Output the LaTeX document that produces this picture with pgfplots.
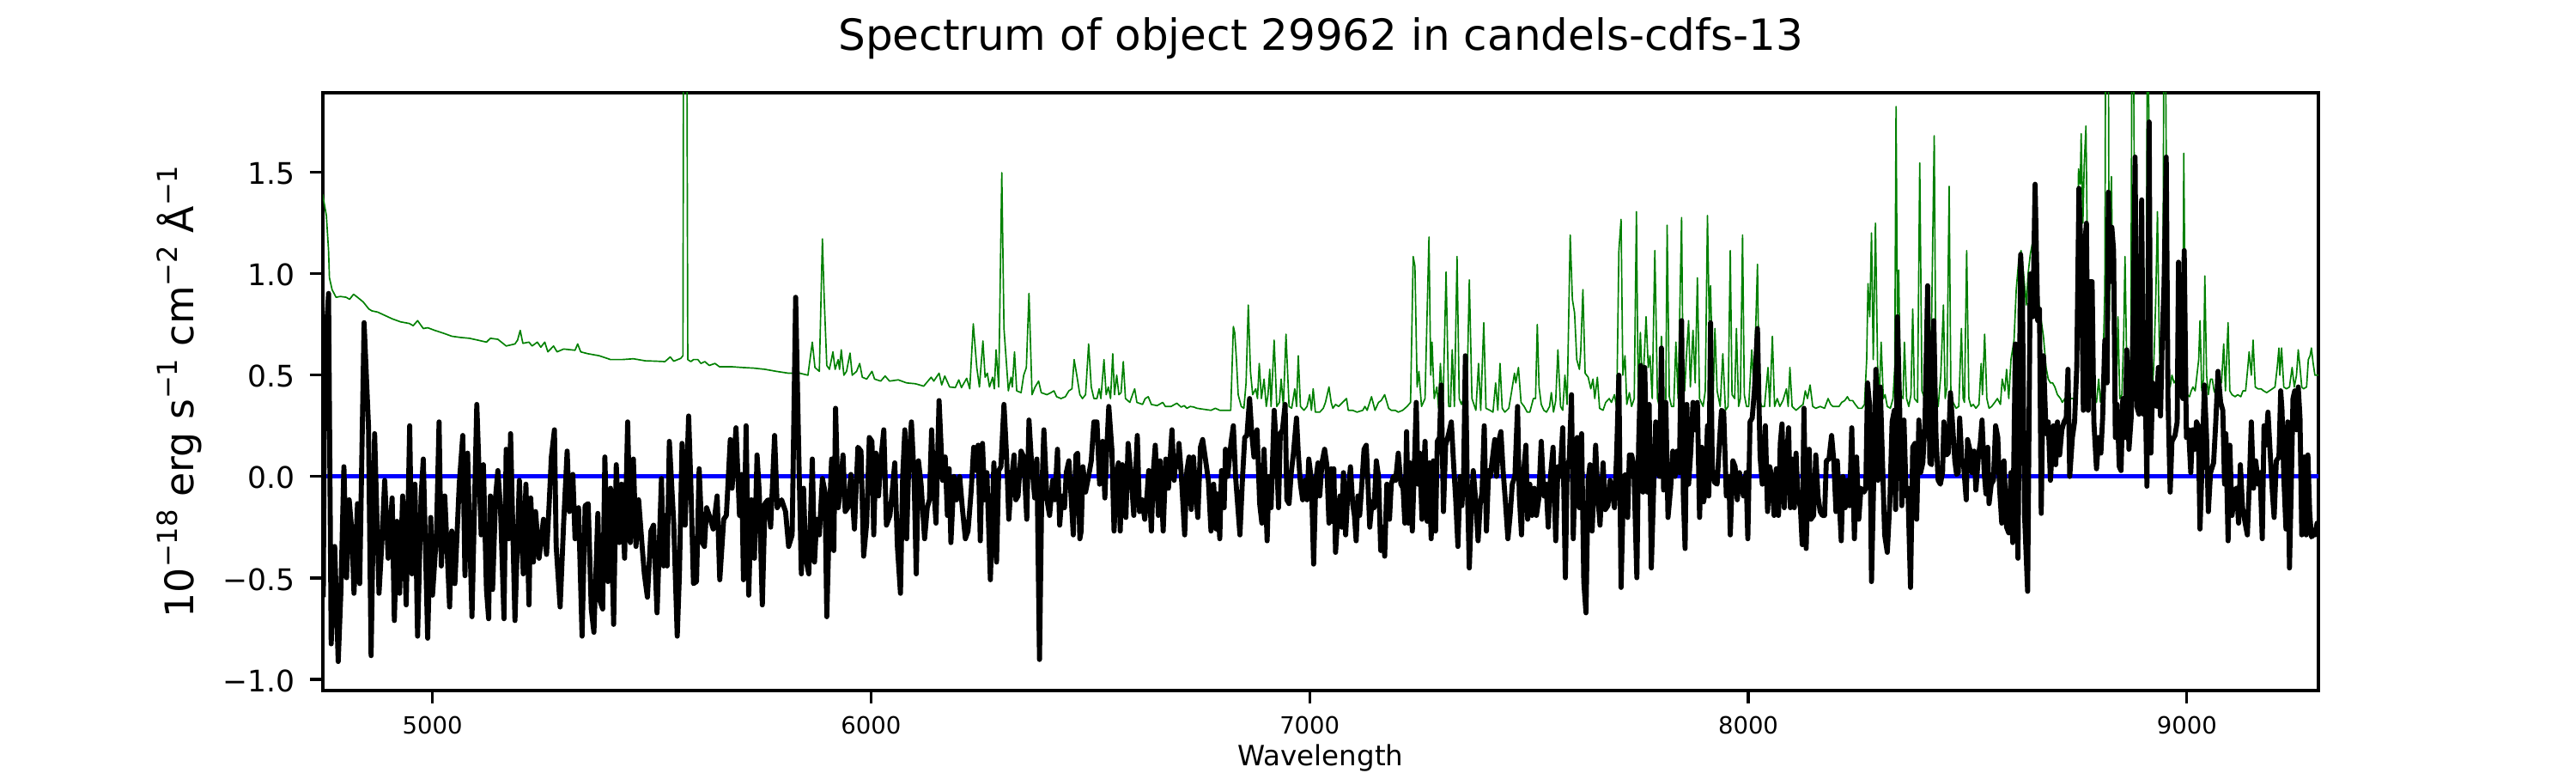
\documentclass[border=0pt]{standalone}
\usepackage{fontspec}
\setmainfont{DejaVu Sans}
\usepackage{pgfplots}
\pgfplotsset{compat=1.18}
\definecolor{mplgreen}{HTML}{008000}
\newcommand{\sps}[1]{\raisebox{0.42em}{\fontsize{7.7}{8}\selectfont #1}}
\begin{document}
\begin{tikzpicture}
\path[use as bounding box] (-90.24pt,-23.04pt) rectangle (629.76pt,192.96pt);
\begin{axis}[
  at={(0,0)}, anchor=south west,
  scale only axis, width=557.76pt, height=167.04pt,
  xmin=4750, xmax=9300, ymin=-1.055, ymax=1.891,
  axis line style={line width=0.8pt},
  tick align=outside, major tick length=3.5pt,
  every tick/.style={line width=0.8pt, black},
  xtick pos=bottom, ytick pos=left,
  xtick={5000,6000,7000,8000,9000},
  xticklabels={5000,6000,7000,8000,9000},
  ytick={-1,-0.5,0,0.5,1,1.5},
  yticklabels={−1.0,−0.5,0.0,0.5,1.0,1.5},
  xticklabel style={font=\fontsize{6.6}{7}\selectfont, anchor=base, inner sep=0pt, yshift=-8.7pt},
  yticklabel style={font=\fontsize{8.3}{9}\selectfont, anchor=base east, inner sep=0pt, xshift=-4.2pt, yshift=-3.4pt},
  title={Spectrum of object 29962 in candels-cdfs-13},
  title style={at={(axis description cs:0.5,1)}, anchor=base, yshift=5.86pt, font=\fontsize{12}{14}\selectfont},
  xlabel={Wavelength},
  xlabel style={at={(axis description cs:0.5,0)}, anchor=base, yshift=-21.1pt, font=\fontsize{7.8}{9}\selectfont},
  ylabel={10\sps{−18} erg s\sps{−1} cm\sps{−2} Å\sps{−1}},
  ylabel style={at={(axis description cs:-0.06454,0.5)}, anchor=base, font=\fontsize{11}{13}\selectfont},
]
% noise / sky spectrum (green)
\addplot[mplgreen, line width=0.4pt, line join=round, mark=none] coordinates {
(4750,1.39)(4751,1.372)(4758,1.286)(4763,1.113)(4765,0.979)(4771,0.921)(4780,0.883)(4790,0.887)(4803,0.883)(4811,0.873)(4820,0.898)(4829,0.883)(4842,0.860)(4855,0.825)(4862,0.816)(4875,0.810)(4888,0.797)(4908,0.777)(4927,0.762)(4947,0.754)(4956,0.743)(4966,0.768)(4979,0.729)(4989,0.733)(5005,0.720)(5025,0.706)(5044,0.691)(5064,0.685)(5084,0.681)(5103,0.672)(5123,0.662)(5132,0.681)(5149,0.676)(5168,0.643)(5188,0.653)(5194,0.672)(5200,0.720)(5206,0.656)(5220,0.662)(5227,0.643)(5239,0.662)(5247,0.637)(5256,0.662)(5263,0.614)(5276,0.643)(5284,0.614)(5299,0.628)(5325,0.622)
(5331,0.653)(5338,0.614)(5354,0.605)(5380,0.595)(5406,0.576)(5432,0.576)(5458,0.580)(5485,0.570)(5511,0.568)(5530,0.566)(5542,0.589)(5550,0.568)(5566,0.582)(5571,0.595)(5573,3)(5579,3)(5582,0.576)(5589,0.566)(5595,0.576)(5605,0.576)(5612,0.557)(5621,0.566)(5631,0.547)(5644,0.557)(5654,0.541)(5680,0.541)(5706,0.537)(5732,0.534)(5758,0.528)(5784,0.518)(5811,0.509)(5837,0.509)(5856,0.499)(5866,0.662)(5872,0.537)(5882,0.518)(5889,1.171)(5893,0.883)(5899,0.547)
(5905,0.528)(5913,0.614)(5918,0.528)(5925,0.576)(5928,0.528)(5932,0.624)(5938,0.499)(5944,0.518)(5952,0.608)(5957,0.499)(5967,0.518)(5974,0.557)(5980,0.489)(5990,0.480)(6002,0.518)(6008,0.480)(6022,0.470)(6032,0.495)(6042,0.470)(6062,0.476)(6081,0.461)(6101,0.457)(6120,0.445)(6137,0.489)(6143,0.470)(6155,0.509)(6161,0.451)(6168,0.495)(6179,0.441)(6192,0.438)(6200,0.476)(6206,0.438)(6218,0.484)(6225,0.432)(6233,0.752)(6241,0.537)(6247,0.441)(6255,0.668)(6260,0.489)(6265,0.509)(6270,0.441)(6277,0.489)(6281,0.432)(6285,0.624)(6291,0.441)(6298,1.497)(6303,0.729)(6308,0.576)(6313,0.422)(6319,0.489)(6322,0.441)(6327,0.614)(6332,0.422)(6342,0.413)(6348,0.499)(6354,0.537)(6360,0.902)(6367,0.403)(6374,0.441)(6382,0.470)(6388,0.413)(6401,0.403)(6410,0.413)(6417,0.422)(6423,0.393)(6433,0.384)(6443,0.393)(6451,0.422)(6458,0.432)(6463,0.576)(6469,0.499)(6476,0.403)
(6482,0.384)(6489,0.403)(6496,0.653)(6502,0.441)(6508,0.384)(6515,0.384)(6520,0.432)(6524,0.384)(6531,0.576)(6536,0.403)(6541,0.441)(6546,0.384)(6551,0.605)(6555,0.403)(6560,0.499)(6565,0.403)(6570,0.413)(6575,0.566)(6580,0.384)(6590,0.365)(6596,0.403)(6601,0.432)(6606,0.365)(6619,0.355)(6625,0.384)(6632,0.393)(6639,0.355)(6652,0.349)(6665,0.365)(6671,0.345)(6684,0.345)(6697,0.361)(6707,0.342)(6714,0.349)(6720,0.336)(6728,0.345)(6736,0.342)(6743,0.336)(6762,0.330)(6775,0.326)(6785,0.336)(6795,0.326)(6820,0.326)(6826,0.739)(6829,0.710)(6833,0.576)(6837,0.403)(6844,0.345)(6850,0.336)(6855,0.461)(6860,0.845)(6865,0.518)(6870,0.403)(6877,0.432)(6881,0.384)(6885,0.557)(6890,0.384)(6896,0.480)(6901,0.345)(6905,0.403)(6909,0.528)(6912,0.345)(6919,0.672)(6925,0.345)(6931,0.365)(6935,0.480)(6940,0.345)(6946,0.701)(6953,0.345)(6959,0.336)(6966,0.432)(6970,0.345)(6974,0.595)(6979,0.345)(6987,0.326)(6994,0.345)(7000,0.403)(7004,0.326)(7008,0.432)(7013,0.317)(7023,0.317)(7031,0.336)(7036,0.365)(7044,0.441)(7049,0.365)
(7053,0.336)(7059,0.355)(7066,0.345)(7075,0.365)(7084,0.384)(7088,0.326)(7098,0.326)(7108,0.317)(7121,0.326)(7126,0.345)(7131,0.326)(7141,0.393)(7149,0.326)(7157,0.365)(7163,0.374)(7171,0.403)(7180,0.336)(7186,0.326)(7195,0.326)(7202,0.317)(7212,0.326)(7222,0.345)(7230,0.365)(7236,1.084)(7240,1.036)(7245,0.441)(7249,0.518)(7255,0.345)(7263,0.384)(7272,1.180)(7276,0.499)(7279,0.662)(7284,0.384)(7290,0.441)(7294,0.336)(7298,0.557)(7304,0.345)(7311,1.008)(7317,0.345)(7321,0.345)(7325,0.624)(7330,0.345)(7336,1.084)(7341,0.384)(7346,0.355)(7351,0.384)(7358,0.345)(7364,0.969)(7370,0.384)(7379,0.326)(7385,0.557)(7390,0.326)(7397,0.758)(7402,0.336)(7411,0.326)(7418,0.317)(7424,0.461)(7429,0.326)(7434,0.557)(7439,0.336)(7445,0.317)(7454,0.336)(7460,0.413)(7467,0.509)(7470,0.461)(7476,0.537)(7482,0.365)(7489,0.345)(7496,0.317)(7502,0.317)(7510,0.384)(7515,0.384)(7519,0.749)(7523,0.441)(7528,0.355)(7534,0.326)(7540,0.317)(7547,0.345)(7551,0.413)(7556,0.317)(7561,0.374)(7566,0.624)(7572,0.345)(7577,0.326)(7582,0.499)(7587,0.355)(7594,1.190)(7599,0.873)(7604,0.806)(7609,0.576)(7615,0.528)(7618,0.614)(7623,0.921)
(7628,0.509)(7635,0.489)(7641,0.432)(7646,0.480)(7650,0.384)(7656,0.489)(7661,0.336)(7669,0.326)(7675,0.365)(7683,0.384)(7688,0.365)(7695,0.403)(7700,0.336)(7705,1.113)(7710,1.267)(7714,0.499)(7719,0.595)(7723,0.355)(7729,0.413)(7734,0.345)(7740,0.384)(7745,1.305)(7749,0.384)(7754,0.710)(7759,0.422)(7763,0.595)(7767,0.787)(7772,0.537)(7776,0.595)(7781,0.384)(7787,1.113)(7793,0.384)(7798,0.336)(7802,0.691)(7807,0.326)(7812,0.384)(7815,1.238)(7820,0.393)(7825,0.345)(7830,0.345)(7835,0.662)(7840,0.384)(7848,1.276)(7851,0.576)(7855,0.422)(7859,0.595)(7864,0.768)(7868,0.441)(7874,0.720)(7879,0.461)(7884,0.979)(7889,0.384)(7897,0.345)(7902,0.422)(7907,1.286)(7911,0.768)(7914,0.940)(7920,0.384)(7924,0.729)(7929,0.422)(7936,0.345)(7942,0.605)(7948,0.326)(7954,0.345)(7959,1.113)(7963,0.403)(7969,0.384)(7973,0.729)(7978,0.345)(7982,0.384)(7987,1.190)(7991,0.403)(7996,0.345)(8001,0.345)(8008,0.624)(8013,0.422)(8021,1.046)(8025,0.384)(8031,0.345)(8037,0.345)(8045,0.537)(8049,0.345)(8055,0.691)(8060,0.345)(8066,0.384)(8072,0.345)(8079,0.374)(8087,0.432)(8091,0.345)(8095,0.537)(8100,0.345)(8109,0.326)(8119,0.345)(8125,0.355)(8130,0.422)(8135,0.384)(8141,0.451)(8147,0.345)(8154,0.336)(8164,0.345)(8174,0.336)(8182,0.384)(8188,0.355)(8193,0.345)(8203,0.345)
(8207,0.345)(8213,0.365)(8220,0.374)(8226,0.393)(8231,0.374)(8238,0.374)(8244,0.355)(8251,0.336)(8259,0.336)(8265,0.355)(8270,0.576)(8273,0.950)(8277,0.787)(8281,1.200)(8285,0.576)(8290,1.248)(8295,0.537)(8299,0.403)(8303,0.662)(8308,0.384)(8312,0.403)(8317,0.345)(8324,0.336)(8330,0.384)(8334,0.537)(8337,1.823)(8340,0.768)(8343,1.017)(8347,0.403)(8353,0.384)(8356,0.662)(8361,0.384)(8366,0.345)(8371,0.403)(8375,0.825)(8379,0.384)(8386,0.365)(8391,1.545)(8396,0.422)(8402,0.384)(8409,0.403)(8415,0.537)(8418,0.768)(8424,1.679)(8428,0.422)(8433,0.345)(8439,0.499)(8445,0.845)(8449,0.384)(8453,0.441)(8458,1.430)(8462,0.403)(8467,0.365)(8474,0.336)(8480,0.345)(8486,0.729)(8490,0.384)(8493,0.365)(8498,1.113)(8503,0.384)(8508,0.345)(8513,0.355)(8519,0.336)(8526,0.355)(8531,0.557)(8534,0.403)(8539,0.701)(8544,0.384)(8549,0.336)(8555,0.345)(8562,0.365)(8568,0.384)(8575,0.355)(8579,0.480)(8585,0.422)(8589,0.528)(8594,0.384)(8599,0.576)(8606,0.672)(8611,0.921)(8617,1.075)(8622,1.113)(8627,1.017)(8634,0.845)(8638,0.998)(8643,1.094)(8649,1.161)(8653,1.228)(8658,0.998)(8663,0.845)(8668,0.768)(8673,0.691)(8679,0.537)(8684,0.480)(8689,0.461)(8694,0.461)(8699,0.441)(8705,0.403)(8712,0.384)(8716,0.365)(8722,0.384)(8731,0.384)(8744,0.384)(8749,0.729)(8753,1.516)(8757,1.440)(8759,1.689)(8763,1.248)(8766,1.536)(8770,1.727)
(8774,0.960)(8779,0.422)(8784,0.422)(8788,0.365)(8794,0.365)(8799,0.480)(8803,0.365)(8808,0.461)(8813,0.921)(8816,3)(8820,3)(8823,0.768)(8828,1.478)(8831,0.960)(8836,0.480)(8839,0.384)(8843,0.787)(8847,0.384)(8852,0.403)(8856,0.691)(8859,1.084)(8863,0.537)(8867,0.384)(8872,0.403)(8876,3)(8880,1.536)(8884,0.518)(8888,0.365)(8891,0.345)(8897,0.461)(8902,0.672)(8907,0.384)(8911,3)(8914,1.344)(8918,0.576)(8921,0.384)(8925,0.576)(8929,0.864)(8933,1.305)(8937,0.672)(8941,0.384)(8945,0.614)(8949,3)(8953,1.574)(8957,0.480)(8962,0.441)(8966,0.499)(8971,0.461)(8976,0.480)(8981,0.384)(8987,0.441)(8991,0.576)(8993,1.593)(8997,0.576)(9001,0.403)(9006,0.393)(9010,0.422)(9014,0.441)(9019,0.422)(9023,0.499)(9027,0.576)(9030,0.768)(9034,0.422)(9038,0.480)(9041,0.988)(9045,0.499)(9049,0.403)(9054,0.480)(9058,0.480)(9062,0.422)(9066,0.403)(9070,0.441)(9074,0.461)(9079,0.461)(9084,0.653)(9088,0.422)(9094,0.758)(9098,0.422)(9103,0.403)(9110,0.393)(9116,0.403)(9123,0.393)(9128,0.422)(9134,0.422)(9139,0.537)(9142,0.614)(9147,0.499)(9151,0.672)(9156,0.441)(9162,0.432)(9169,0.432)(9175,0.422)(9182,0.413)(9188,0.422)(9195,0.432)(9201,0.441)(9206,0.537)(9210,0.633)(9212,0.499)(9216,0.633)(9221,0.441)(9227,0.432)(9234,0.441)(9240,0.537)(9245,0.441)(9250,0.499)(9254,0.624)(9258,0.537)(9262,0.441)(9266,0.432)(9273,0.441)(9277,0.576)(9281,0.595)(9284,0.633)(9288,0.557)(9292,0.499)(9297,0.499)(9300,0.5)
};
% zero line (blue)
\addplot[blue, line width=1.3pt, mark=none] coordinates {(4750,0)(9300,0)};
% flux (black)
\addplot[black, line width=1.4pt, line join=round, mark=none] coordinates {
(4751,-0.595)(4754,0.576)(4763,0.902)(4769,-0.825)(4777,-0.345)(4785,-0.912)(4791,-0.576)(4798,0.048)(4804,-0.499)(4810,-0.115)(4816,-0.269)(4821,-0.576)(4829,-0.134)(4834,-0.528)(4844,0.758)(4854,0.250)(4860,-0.883)(4868,0.211)(4878,-0.576)(4885,-0.307)(4891,-0.019)(4899,-0.403)(4908,-0.106)(4913,-0.710)(4919,-0.221)(4925,-0.576)(4932,-0.096)(4940,-0.633)(4948,0.250)(4953,-0.480)(4960,-0.038)(4966,-0.787)(4974,-0.096)(4979,0.086)(4989,-0.797)(4996,-0.202)(5000,-0.585)(5009,-0.288)(5015,0.269)(5020,-0.441)(5028,-0.096)(5039,-0.643)(5044,-0.269)(5051,-0.528)(5061,-0.038)(5069,0.202)(5074,-0.489)(5080,0.115)(5090,-0.691)(5101,0.355)(5111,-0.288)(5116,0.058)(5123,-0.557)(5128,-0.701)(5132,-0.096)(5137,-0.557)(5144,-0.096)(5149,0.029)(5155,-0.154)(5163,-0.701)(5168,0.134)(5174,-0.307)(5178,0.211)(5188,-0.710)(5198,-0.019)(5207,-0.480)(5213,-0.038)(5220,-0.633)(5224,-0.106)(5230,-0.422)(5235,-0.173)(5243,-0.403)(5253,-0.211)(5260,-0.384)(5266,-0.134)(5271,0.096)(5278,0.230)(5282,-0.345)(5291,-0.643)(5299,-0.230)(5307,0.125)(5312,-0.173)(5320,0.010)(5325,-0.307)
(5333,-0.154)(5341,-0.787)(5348,-0.144)(5355,-0.134)(5362,-0.653)(5368,-0.768)(5377,-0.182)(5382,-0.614)(5388,-0.653)(5393,0.096)(5400,-0.518)(5406,-0.058)(5413,-0.729)(5419,0.058)(5426,-0.326)(5431,-0.038)(5438,-0.403)(5445,0.269)(5451,-0.326)(5458,0.086)(5464,-0.345)(5470,-0.115)(5478,-0.345)(5483,-0.480)(5490,-0.595)(5498,-0.269)(5504,-0.240)(5512,-0.672)(5522,-0.010)(5527,-0.441)(5531,-0.192)(5535,-0.441)(5540,0.173)(5550,-0.230)(5558,-0.787)(5563,-0.480)(5569,0.163)(5576,-0.240)(5584,0.298)(5589,-0.038)(5595,-0.528)(5602,-0.518)(5608,0.038)(5615,-0.326)(5620,-0.345)(5625,-0.154)(5631,-0.192)(5640,-0.259)(5649,-0.096)(5655,-0.509)(5664,-0.211)(5670,-0.192)(5679,0.182)(5683,-0.058)(5692,0.240)(5700,-0.192)(5705,0.010)(5709,-0.509)(5715,0.250)(5721,-0.585)(5727,-0.115)(5734,-0.403)(5740,0.106)(5745,-0.077)(5752,-0.633)(5758,-0.134)(5765,-0.115)(5771,-0.250)(5780,0.202)(5786,-0.154)(5796,-0.115)(5805,-0.173)(5812,-0.345)(5820,-0.288)(5828,0.883)(5835,0.125)(5841,-0.480)(5846,-0.058)(5851,-0.403)(5858,-0.480)(5866,0.086)(5871,-0.422)(5876,-0.211)(5882,-0.288)(5889,-0.010)(5895,-0.077)(5899,-0.691)
(5905,-0.192)(5910,0.086)(5915,-0.365)(5919,0.336)(5925,-0.154)(5930,-0.058)(5936,0.106)(5941,-0.173)(5947,-0.154)(5954,0.010)(5962,-0.259)(5970,0.144)(5977,0.125)(5983,-0.393)(5990,-0.230)(5996,0.192)(6002,0.173)(6006,-0.288)(6011,0.115)(6017,-0.096)(6022,0.077)(6029,0.230)(6035,-0.240)(6043,-0.192)(6048,-0.077)(6054,0.067)(6060,-0.345)(6067,-0.576)(6072,0)(6077,0.230)(6081,-0.307)(6086,0.067)(6092,0.269)(6098,0)(6103,-0.480)(6108,0.077)(6114,-0.038)(6122,-0.307)(6128,-0.154)(6133,-0.115)(6138,0.230)(6143,-0.058)(6148,-0.230)(6155,0.374)(6163,-0.019)(6169,0.096)(6174,-0.192)(6178,0.038)(6182,-0.326)(6189,0)(6195,-0.115)(6202,0)(6208,-0.154)(6215,-0.307)(6221,-0.269)(6228,-0.077)(6234,0.144)(6240,0.029)(6244,0.154)(6249,-0.317)(6254,0.163)(6259,-0.115)(6264,0.019)(6272,-0.509)(6280,0.067)(6286,-0.422)(6291,0.029)(6296,0.048)(6303,0.355)(6309,0.096)(6314,-0.211)(6320,-0.019)(6326,0.106)(6330,-0.115)(6335,-0.096)(6342,0.125)(6348,0.096)(6355,-0.211)(6360,0.278)(6365,0.096)(6373,-0.106)(6378,0.086)(6384,-0.902)(6389,-0.096)(6394,0.230)(6401,-0.115)(6407,-0.192)(6414,-0.019)(6419,-0.115)(6425,0.134)(6430,-0.240)(6435,-0.096)(6441,-0.154)(6445,0.019)(6451,0.077)(6456,-0.096)(6461,-0.288)(6467,0.106)(6471,0.115)(6476,-0.307)
(6479,-0.269)(6483,0.048)(6489,-0.077)(6495,-0.010)(6502,0.077)(6508,0.269)(6515,0.269)(6521,-0.038)(6528,0.173)(6533,-0.106)(6537,0.115)(6542,0.345)(6549,0.134)(6554,-0.269)(6559,0)(6564,0.067)(6568,-0.269)(6573,0.058)(6577,0)(6581,-0.202)(6586,0.163)(6593,0)(6599,-0.192)(6607,0.202)(6612,-0.173)(6618,-0.115)(6624,-0.211)(6629,-0.096)(6633,0.029)(6639,-0.269)(6644,0.038)(6648,0.154)(6655,-0.192)(6659,0.077)(6666,-0.269)(6672,0.086)(6678,-0.058)(6686,0.230)(6691,-0.019)(6694,0.077)(6699,0.048)(6702,0.163)(6707,0.019)(6715,-0.288)(6720,0.029)(6725,0.096)(6730,-0.163)(6735,0.096)(6740,-0.077)(6745,-0.202)(6751,0.144)(6756,0.182)(6761,0.106)(6766,0.029)(6769,-0.019)(6775,-0.269)(6781,-0.038)(6787,-0.259)(6790,-0.086)(6795,-0.307)(6799,0.029)(6805,-0.154)(6808,0.134)(6813,0)(6821,0.173)(6826,0.250)(6831,0)(6835,-0.115)(6841,-0.288)(6847,0)(6852,0.192)(6857,0.202)(6863,0.384)(6868,0.211)(6873,0.096)(6880,0.230)(6886,-0.134)(6891,-0.230)(6896,0.134)(6903,-0.317)(6907,0)(6912,-0.154)(6919,0.326)(6923,0.182)(6929,-0.154)(6933,0.211)(6938,0.230)(6944,0.355)(6948,-0.115)(6953,-0.134)(6958,0.019)(6963,0.115)(6970,0.288)(6974,0.115)(6979,-0.038)(6984,-0.115)(6989,-0.019)(6994,-0.115)(6998,0.086)(7004,-0.019)(7009,-0.432)(7014,-0.019)(7019,0.067)(7023,-0.096)(7028,0.067)(7034,0.134)(7039,0.058)(7044,-0.230)(7049,0.038)
(7051,-0.221)(7055,0.038)(7059,-0.374)(7064,-0.192)(7069,-0.096)(7073,-0.250)(7077,0.019)(7082,-0.288)(7086,-0.115)(7093,0.048)(7098,-0.134)(7102,-0.192)(7106,-0.317)(7110,-0.096)(7114,-0.192)(7119,-0.038)(7124,0.134)(7129,0.154)(7133,-0.038)(7137,-0.250)(7142,-0.125)(7147,-0.154)(7152,0.077)(7157,0)(7162,-0.365)(7167,-0.250)(7171,-0.393)(7176,-0.038)(7182,-0.211)(7186,-0.038)(7191,0)(7196,-0.019)(7202,0.115)(7208,-0.038)(7213,-0.058)(7217,-0.230)(7221,0.221)(7225,-0.230)(7229,0.067)(7234,-0.269)(7238,0)(7243,0.365)(7247,-0.038)(7251,0.115)(7256,-0.211)(7263,0.173)(7268,-0.221)(7273,0.067)(7277,-0.307)(7282,0.077)(7287,-0.269)(7291,0.173)(7296,0.192)(7300,0.451)(7305,-0.173)(7310,0.154)(7317,0.211)(7323,0.269)(7328,0.067)(7333,-0.115)(7338,-0.345)(7343,0)(7347,-0.144)(7351,0)(7355,0.595)(7359,0)(7364,-0.451)(7369,-0.134)(7373,0.029)(7379,-0.134)(7384,-0.317)(7389,-0.134)(7393,-0.077)(7398,0.250)(7403,-0.269)(7408,0.029)(7412,0)(7416,0.077)(7422,0.182)(7426,0)(7431,0.173)(7436,0.221)(7441,0.029)(7446,-0.115)(7452,-0.307)(7457,-0.192)(7462,-0.038)(7468,0)(7474,0.345)(7478,-0.096)(7483,-0.288)(7487,0)(7493,0.154)(7497,-0.211)(7502,-0.038)(7507,-0.192)(7512,-0.058)(7517,-0.192)(7522,-0.115)(7528,0.173)(7534,-0.096)(7539,-0.038)(7544,-0.250)(7549,0)(7555,0.144)(7561,-0.317)(7566,0.048)(7571,0)(7577,0.240)(7583,-0.499)(7587,0.038)(7592,0.086)(7597,0.403)(7601,-0.307)(7605,0.019)(7610,0.192)(7615,-0.154)(7620,0.211)(7625,-0.518)(7630,-0.672)
(7635,-0.019)(7639,0.058)(7644,-0.269)(7652,0.154)(7657,-0.096)(7662,-0.240)(7669,0.067)(7674,-0.163)(7680,-0.144)(7685,-0.019)(7690,-0.077)(7695,-0.154)(7700,0.115)(7705,0.499)(7710,-0.547)(7716,0)(7721,0.010)(7725,-0.202)(7729,0.106)(7734,0.106)(7739,0.058)(7746,-0.499)(7750,0.154)(7755,0.547)(7760,-0.077)(7764,0.537)(7770,-0.077)(7774,0.355)(7779,-0.451)(7785,0)(7789,0.269)(7794,0.019)(7798,0)(7802,0.633)(7807,-0.067)(7812,0.365)(7817,-0.202)(7823,-0.058)(7828,0.125)(7833,0)(7838,0.125)(7843,0.019)(7848,0.768)(7852,-0.096)(7856,-0.355)(7860,0.355)(7864,-0.038)(7869,0.125)(7874,0.365)(7879,0.230)(7884,0.365)(7889,-0.202)(7894,0.144)(7898,-0.125)(7902,-0.077)(7907,0.250)(7910,-0.096)(7914,0.758)(7918,0.038)(7923,-0.029)(7929,-0.038)(7935,0.192)(7939,0.326)(7944,0.317)(7950,-0.096)(7956,0)(7959,-0.288)(7965,0.077)(7970,0.048)(7975,-0.115)(7980,0.019)(7985,-0.038)(7989,-0.096)(7995,0.019)(7999,-0.307)(8004,0.269)(8009,0.288)(8014,0.422)(8021,0.729)(8027,0.096)(8032,-0.038)(8039,0.250)(8044,-0.173)(8049,0.048)(8053,0)(8059,-0.192)(8064,0.038)(8069,-0.192)(8073,0.163)(8077,0.259)(8082,-0.154)(8087,0.077)(8092,0.240)(8096,-0.154)(8100,0.086)(8105,-0.154)(8109,0.115)(8113,-0.096)(8119,-0.154)(8123,-0.336)(8127,0.336)(8132,-0.355)(8135,-0.115)(8139,0.134)(8143,-0.211)(8149,-0.192)(8154,0.106)(8159,-0.096)(8164,-0.173)(8169,-0.192)(8174,-0.192)(8178,0.077)(8184,0.086)(8190,0.202)(8195,0.077)(8200,-0.173)(8203,0.077)
(8212,-0.317)(8216,0)(8221,-0.154)(8226,-0.019)(8231,-0.144)(8236,0.240)(8242,-0.307)(8247,0.096)(8252,-0.211)(8257,-0.058)(8264,-0.077)(8268,-0.058)(8272,0.461)(8277,0.345)(8281,-0.518)(8286,-0.019)(8291,0.528)(8296,-0.019)(8301,0.441)(8306,0.077)(8311,-0.288)(8317,-0.374)(8323,-0.115)(8328,0.269)(8333,0.326)(8336,-0.163)(8340,0.787)(8345,0.355)(8350,-0.144)(8355,0.278)(8360,-0.096)(8364,-0.058)(8370,-0.547)(8375,0.144)(8380,0.163)(8384,-0.211)(8389,0.278)(8393,0.019)(8398,0.067)(8403,0.269)(8409,0.940)(8414,0.067)(8418,0.058)(8423,0.768)(8428,0.202)(8433,-0.019)(8438,-0.038)(8443,0.019)(8446,0.269)(8452,0.106)(8456,0.115)(8461,0.413)(8466,0.250)(8471,0.077)(8475,0.010)(8479,0.019)(8482,0.288)(8487,0.077)(8491,0.058)(8497,-0.115)(8500,0.182)(8505,0.134)(8510,0.019)(8515,0.125)(8519,-0.067)(8525,0.106)(8529,0.163)(8533,0.278)(8538,0.019)(8542,-0.086)(8546,0.144)(8549,-0.134)(8554,-0.038)(8559,-0.019)(8564,0.250)(8569,0.192)(8573,-0.058)(8578,-0.230)(8583,0.077)(8589,-0.250)(8594,-0.278)(8599,0.019)(8603,-0.326)(8609,0.653)(8615,-0.403)(8621,1.094)(8625,0.902)(8630,-0.192)(8637,-0.566)(8643,0.998)(8649,0.787)(8654,1.440)(8660,0.768)(8664,0.825)(8668,-0.182)(8673,0.595)(8679,0.211)(8684,0.269)(8689,-0.019)(8696,0.250)(8701,0.058)(8705,0.269)(8710,0.106)(8715,0.230)(8720,0.269)(8725,0.288)(8729,0.528)(8733,0)(8739,0.192)(8744,0.269)(8749,0.537)(8754,1.420)
(8760,0.998)(8764,0.326)(8769,1.190)(8771,1.248)(8775,0.326)(8779,0.960)(8784,0.960)(8788,0.269)(8794,0.038)(8799,0.192)(8804,0.115)(8808,0.288)(8813,0.672)(8818,0.461)(8821,1.401)(8825,0.960)(8829,1.228)(8833,1.113)(8837,0.192)(8841,0.355)(8846,0.048)(8850,0.029)(8854,0.384)(8859,0.192)(8863,0.624)(8868,0.134)(8873,0.288)(8878,0.806)(8882,1.574)(8886,0.345)(8891,0.307)(8897,1.363)(8901,0.307)(8904,0.576)(8909,-0.048)(8914,1.747)(8918,0.115)(8922,0.461)(8927,0.355)(8931,0.345)(8935,0.537)(8940,0.298)(8944,0.691)(8948,0.940)(8953,1.574)(8957,0.384)(8962,-0.077)(8966,0.173)(8973,0.202)(8978,0.269)(8981,1.056)(8987,0.422)(8991,0.384)(8994,1.113)(8999,0.192)(9004,0.230)(9009,0.019)(9013,0.230)(9018,0.134)(9022,0.269)(9026,0.250)(9030,-0.259)(9035,0.077)(9040,0.451)(9045,0.192)(9049,-0.173)(9054,0.019)(9061,0.067)(9066,0.269)(9071,0.518)(9077,0.365)(9082,0.326)(9086,-0.038)(9089,0.211)(9094,-0.317)(9098,0.154)(9103,-0.192)(9109,-0.077)(9113,-0.058)(9118,-0.230)(9122,0.058)(9127,-0.154)(9133,-0.230)(9138,-0.288)(9143,0)(9147,0.269)(9152,-0.058)(9157,0.077)(9163,-0.038)(9167,0.019)(9172,-0.307)(9176,0.250)(9180,0.154)(9185,0.317)(9190,0.115)(9195,-0.077)(9199,-0.202)(9204,0.077)(9210,0.096)(9214,0.422)(9217,0.326)(9221,0)(9226,-0.259)(9230,0.269)(9234,-0.451)(9238,-0.058)(9242,0.384)(9246,0.422)(9250,0.230)(9254,0.441)(9258,0.288)(9262,-0.288)(9265,0.058)(9268,0.096)(9272,-0.288)(9276,0.106)(9280,-0.173)(9284,-0.298)(9288,-0.288)(9292,-0.288)(9297,-0.230)(9300,-0.28)
};
\end{axis}
\end{tikzpicture}
\end{document}
